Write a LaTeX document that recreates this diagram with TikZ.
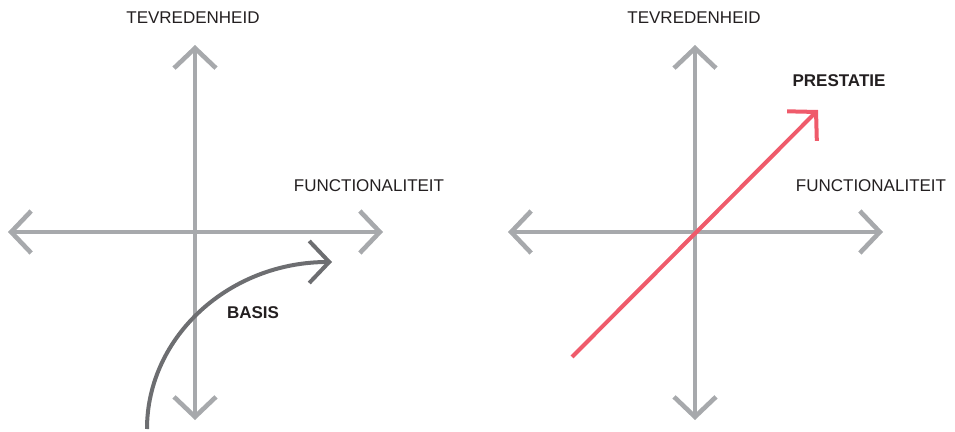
\documentclass[tikz,border=0pt]{standalone}
\usepackage{fontspec}
\setmainfont{Liberation Sans}
\usetikzlibrary{arrows.meta}
\definecolor{axisgray}{HTML}{A7A9AC}
\definecolor{curvegray}{HTML}{6D6E71}
\definecolor{prestred}{HTML}{EF5B6B}
\definecolor{txtdark}{HTML}{231F20}
\tikzset{
  >={Straight Barb[length=20pt,width=42pt]},
  axisline/.style={draw=axisgray,line width=4.6pt,<->},
  axlabel/.style={text=txtdark,font=\fontsize{17}{17}\selectfont,inner sep=0pt},
  boldlabel/.style={text=txtdark,font=\fontsize{17}{17}\selectfont\bfseries,inner sep=0pt},
}
\begin{document}
\begin{tikzpicture}[x=1pt,y=-1pt]
\useasboundingbox (0,0) rectangle (955,431);
% left diagram
\coordinate (Ltop) at (195,45);
\coordinate (Lbot) at (195,420);
\coordinate (Lleft) at (8,232);
\coordinate (Lright) at (383,232);
\draw[axisline] (Lbot) -- (Ltop);
\draw[axisline] (Lleft) -- (Lright);
\node[axlabel] (Ltev) at (193,18) {TEVREDENHEID};
\node[axlabel] (Lfun) at (369,186) {FUNCTIONALITEIT};
\coordinate (Bstart) at (147,429);
\coordinate (Bend) at (332,262);
\draw[curvegray,line width=4pt,->] (Bstart) .. controls (147,336) and (230,262) .. (Bend);
\node[boldlabel] (basis) at (253,313) {BASIS};
% right diagram
\coordinate (Rtop) at (695,45);
\coordinate (Rbot) at (695,420);
\coordinate (Rleft) at (508,232);
\coordinate (Rright) at (883,232);
\draw[axisline] (Rbot) -- (Rtop);
\draw[axisline] (Rleft) -- (Rright);
\node[axlabel] (Rtev) at (694,18) {TEVREDENHEID};
\node[axlabel] (Rfun) at (871,186) {FUNCTIONALITEIT};
\coordinate (Pstart) at (572,357);
\coordinate (Pend) at (818,110);
\draw[prestred,line width=4pt,->] (Pstart) -- (Pend);
\node[boldlabel] (prest) at (839,81) {PRESTATIE};
\end{tikzpicture}
\end{document}
